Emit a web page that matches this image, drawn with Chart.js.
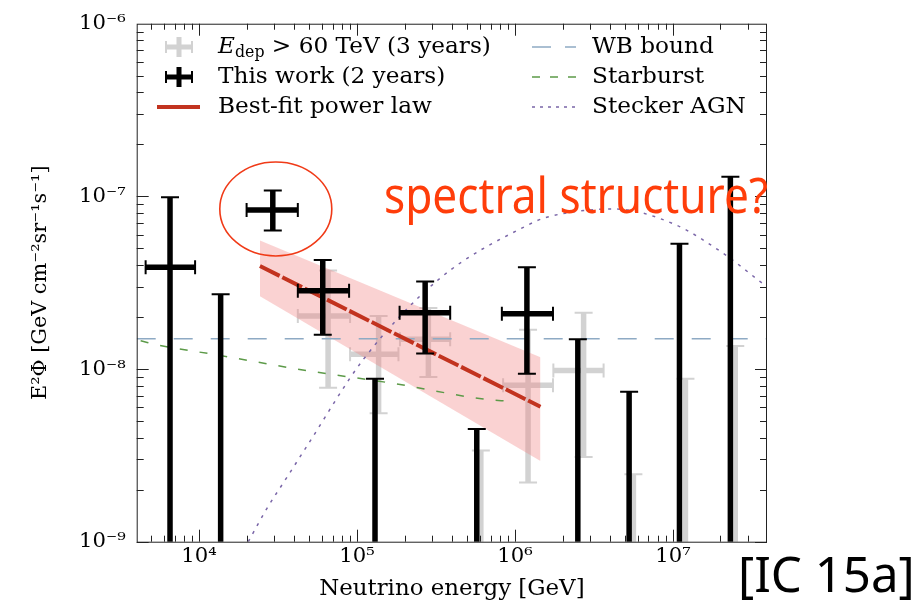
<!DOCTYPE html>
<html>
<head>
<meta charset="utf-8">
<script src="https://cdn.jsdelivr.net/npm/chart.js@4.4.1/dist/chart.umd.min.js"></script>
<style>
  html, body { margin: 0; padding: 0; background: #fff; }
  #wrap { width: 923px; height: 610px; }
</style>
</head>
<body>
<div id="wrap"><canvas id="fluxChart" width="923" height="610"></canvas></div>
<script>
// axis ranges and ticks
const xMin = 4.03e3, xMax = 3.94e7;
const yMin = 1e-9, yMax = 1e-6;
const xTickValues = [1e4, 1e5, 1e6, 1e7];
const xTickLabels = ['10⁴', '10⁵', '10⁶', '10⁷'];
const yTickValues = [1e-9, 1e-8, 1e-7, 1e-6];
const yTickLabels = ['10⁻⁹', '10⁻⁸', '10⁻⁷', '10⁻⁶'];

// This work (2 years) - measured bins
const workE    = [6.55e3, 2.93e4, 6.07e4, 2.70e5, 1.19e6];
const workELo  = [4.59e3, 2.00e4, 4.22e4, 1.86e5, 8.26e5];
const workEHi  = [9.44e3, 4.22e4, 8.91e4, 3.89e5, 1.74e6];
const workF    = [3.88e-8, 8.34e-8, 2.84e-8, 2.12e-8, 2.09e-8];
const workFLo  = [1e-10, 6.35e-8, 1.58e-8, 1.23e-8, 9.4e-9];
const workFHi  = [9.9e-8, 1.08e-7, 4.28e-8, 3.21e-8, 3.88e-8];
// This work - upper limits
const workLimE = [1.37e4, 1.30e5, 5.73e5, 2.50e6, 5.28e6, 1.10e7, 2.31e7];
const workLimF = [2.71e-8, 8.8e-9, 4.49e-9, 1.49e-8, 7.38e-9, 5.32e-8, 1.30e-7];

// E_dep > 60 TeV (3 years)
const heseE   = [6.56e4, 1.37e5, 2.83e5, 1.21e6, 2.72e6];
const heseELo = [4.22e4, 9.04e4, 1.87e5, 8.41e5, 1.75e6];
const heseEHi = [9.04e4, 1.83e5, 3.89e5, 1.74e6, 3.64e6];
const heseF   = [2.03e-8, 1.22e-8, 1.49e-8, 8.05e-9, 9.8e-9];
const heseFLo = [7.78e-9, 5.55e-9, 9.0e-9, 2.2e-9, 3.09e-9];
const heseFHi = [3.72e-8, 2.03e-8, 2.26e-8, 1.69e-8, 2.12e-8];
const heseLimE = [6.08e5, 5.62e6, 1.20e7, 2.48e7];
const heseLimF = [3.37e-9, 2.46e-9, 8.8e-9, 1.36e-8];

// best-fit power law and its band
const fitE = [2.43e4, 1.45e6];
const fitF = [3.95e-8, 6.05e-9];
const fitBandHi = [5.56e-8, 1.17e-8];
const fitBandLo = [2.64e-8, 2.93e-9];

// models
const wbE = [xMin, xMax];
const wbF = [1.50e-8, 1.50e-8];
const starE = [4.27e3, 5.25e3, 1.35e4, 4.79e4, 1.78e5, 6.31e5, 9.33e5];
const starF = [1.46e-8, 1.39e-8, 1.20e-8, 9.8e-9, 8.2e-9, 6.7e-9, 6.5e-9];
const steckE = [2.05e4, 2.68e4, 3.59e4, 4.81e4, 1.10e5, 3.36e5, 1.19e6, 1.59e6, 4.21e6, 1.01e7, 2.09e7, 3.57e7, 3.94e7];
const steckF = [1.0e-9, 1.55e-9, 2.35e-9, 3.57e-9, 1.14e-8, 3.36e-8, 6.78e-8, 7.57e-8, 8.45e-8, 6.93e-8, 4.67e-8, 3.21e-8, 3.0e-8];

const serif = "'DejaVu Serif', 'Liberation Serif', serif";
const handFont = "'Comic Sans MS', 'Noto Sans', 'DejaVu Sans', sans-serif";
const greyCol = '#d2d2d2';
const redCol = '#c2331f';
const wbCol = '#8eaac4';
const starCol = '#5c9a48';
const steckCol = '#7a66a8';

// pick a font size so a text gets the width it has in the original figure
const measurer = document.createElement('canvas').getContext('2d');
function fitSize(text, family, width, style) {
    measurer.font = (style || '') + ' 100px ' + family;
    return Math.round(1000 * width / measurer.measureText(text).width) / 10;
}
const tickSize = fitSize('10', serif, 27);
const legendSize = fitSize('This work (2 years)', serif, 227);
const xTitleSize = fitSize('Neutrino energy [GeV]', serif, 265);
const yTitleSize = fitSize('E²Φ [GeV cm⁻²sr⁻¹s⁻¹]', serif, 235);

const pts = (xs, ys) => xs.map((x, i) => ({ x: x, y: ys[i] }));

function drawCrossPx(ctx, px, py, pxl, pxh, pyl, pyh, color, w, capW, capH) {
    ctx.strokeStyle = color;
    ctx.lineCap = 'butt';
    ctx.lineWidth = w;
    ctx.beginPath();
    ctx.moveTo(pxl, py); ctx.lineTo(pxh, py);
    ctx.moveTo(px, pyl); ctx.lineTo(px, pyh);
    ctx.stroke();
    ctx.lineWidth = 2;
    ctx.beginPath();
    ctx.moveTo(px - capW, pyh); ctx.lineTo(px + capW, pyh);
    ctx.moveTo(px - capW, pyl); ctx.lineTo(px + capW, pyl);
    ctx.moveTo(pxl, py - capH); ctx.lineTo(pxl, py + capH);
    ctx.moveTo(pxh, py - capH); ctx.lineTo(pxh, py + capH);
    ctx.stroke();
}

function drawSet(chart, E, ELo, EHi, F, FLo, FHi, limE, limF, color) {
    const ctx = chart.ctx, xs = chart.scales.x, ys = chart.scales.y, a = chart.chartArea;
    ctx.save();
    ctx.beginPath();
    ctx.rect(a.left, a.top, a.right - a.left, a.bottom - a.top);
    ctx.clip();
    E.forEach((e, i) => {
        drawCrossPx(ctx, xs.getPixelForValue(e), ys.getPixelForValue(F[i]),
            xs.getPixelForValue(ELo[i]), xs.getPixelForValue(EHi[i]),
            ys.getPixelForValue(FLo[i]), ys.getPixelForValue(FHi[i]), color, 5.5, 9, 7);
    });
    limE.forEach((e, i) => {
        const px = xs.getPixelForValue(e), top = ys.getPixelForValue(limF[i]);
        ctx.strokeStyle = color;
        ctx.lineWidth = 5.5;
        ctx.beginPath(); ctx.moveTo(px, a.bottom + 5); ctx.lineTo(px, top); ctx.stroke();
        ctx.lineWidth = 2;
        ctx.beginPath(); ctx.moveTo(px - 9, top); ctx.lineTo(px + 9, top); ctx.stroke();
    });
    ctx.restore();
}

const errorBars = {
    id: 'errorBars',
    beforeDatasetsDraw(chart) {
        drawSet(chart, heseE, heseELo, heseEHi, heseF, heseFLo, heseFHi, heseLimE, heseLimF, greyCol);
    },
    afterDatasetsDraw(chart) {
        drawSet(chart, workE, workELo, workEHi, workF, workFLo, workFHi, workLimE, workLimF, '#000');
    }
};

const frame = {
    id: 'frame',
    afterDraw(chart) {
        const ctx = chart.ctx, xs = chart.scales.x, ys = chart.scales.y, a = chart.chartArea;
        ctx.save();
        ctx.strokeStyle = '#222';
        ctx.lineWidth = 1;
        ctx.strokeRect(a.left + 0.5, a.top + 0.5, a.right - a.left - 1, a.bottom - a.top);
        ctx.beginPath();
        for (let d = 3; d <= 7; d++) {
            for (let m = 1; m <= 9; m++) {
                const v = m * Math.pow(10, d);
                if (v < xMin || v > xMax) continue;
                const len = m === 1 ? 12 : 6;
                const p = Math.round(xs.getPixelForValue(v)) + 0.5;
                ctx.moveTo(p, a.bottom); ctx.lineTo(p, a.bottom - len);
                ctx.moveTo(p, a.top); ctx.lineTo(p, a.top + len);
            }
        }
        for (let d = -9; d <= -7; d++) {
            for (let m = 1; m <= 9; m++) {
                const v = m * Math.pow(10, d);
                if (v < yMin || v > yMax) continue;
                const len = m === 1 ? 12 : 7;
                const p = Math.round(ys.getPixelForValue(v)) + 0.5;
                ctx.moveTo(a.left, p); ctx.lineTo(a.left + len, p);
                ctx.moveTo(a.right, p); ctx.lineTo(a.right - len, p);
            }
        }
        ctx.stroke();

        // legend
        ctx.textBaseline = 'middle';
        ctx.fillStyle = '#000';
        const rows = [47, 77, 107];
        drawCrossPx(ctx, 179, rows[0], 166, 192, rows[0] + 10, rows[0] - 10, greyCol, 5, 0, 6);
        drawCrossPx(ctx, 179, rows[1], 166, 192, rows[1] + 10, rows[1] - 10, '#000', 5, 0, 6);
        ctx.strokeStyle = redCol; ctx.lineWidth = 4;
        ctx.beginPath(); ctx.moveTo(157, rows[2]); ctx.lineTo(200, rows[2]); ctx.stroke();
        let tx = 218;
        ctx.font = 'italic ' + legendSize + 'px ' + serif;
        ctx.fillText('E', tx, rows[0]);
        tx += ctx.measureText('E').width;
        ctx.font = (legendSize * 0.68).toFixed(1) + 'px ' + serif;
        ctx.fillText('dep', tx, rows[0] + 6);
        tx += ctx.measureText('dep').width;
        ctx.font = legendSize + 'px ' + serif;
        ctx.fillText(' > 60 TeV (3 years)', tx, rows[0]);
        ctx.fillText('This work (2 years)', 218, rows[1]);
        ctx.fillText('Best-fit power law', 218, rows[2]);

        const models = [['WB bound', wbCol, [19, 14]], ['Starburst', starCol, [8, 10]], ['Stecker AGN', steckCol, [3, 5]]];
        models.forEach((m, i) => {
            ctx.strokeStyle = m[1]; ctx.lineWidth = 1.5;
            ctx.setLineDash(m[2]);
            ctx.beginPath(); ctx.moveTo(532, rows[i]); ctx.lineTo(576, rows[i]); ctx.stroke();
            ctx.setLineDash([]);
            ctx.fillText(m[0], 592, rows[i]);
        });

        // annotations
        const cx = xs.getPixelForValue(workE[1]) + 3, cy = ys.getPixelForValue(workF[1]) - 1;
        ctx.strokeStyle = '#f03a17'; ctx.lineWidth = 1.6;
        ctx.beginPath(); ctx.ellipse(cx, cy, 56, 47, 0, 0, 2 * Math.PI); ctx.stroke();

        ctx.textBaseline = 'alphabetic';
        ctx.fillStyle = '#ff3d0a';
        ctx.font = fitSize('spectral structure?', handFont, 384) + 'px ' + handFont;
        ctx.save();
        ctx.translate(384, 213);
        ctx.scale(1, 1.1);
        ctx.fillText('spectral structure?', 0, 0);
        ctx.restore();

        ctx.fillStyle = '#000';
        ctx.font = fitSize('[IC 15a]', handFont, 177) + 'px ' + handFont;
        ctx.fillText('[IC 15a]', 738, 592);
        ctx.restore();
    }
};

const ctx = document.getElementById('fluxChart').getContext('2d');
const chart = new Chart(ctx, {
    type: 'scatter',
    data: {
        datasets: [
            {
                label: 'Best-fit power law',
                type: 'line',
                data: pts(fitE, fitF),
                borderColor: redCol,
                borderWidth: 4,
                borderDash: [22, 3],
                pointRadius: 0,
                fill: false,
                order: 1
            },
            {
                label: 'WB bound',
                type: 'line',
                data: pts(wbE, wbF),
                borderColor: wbCol,
                borderWidth: 1.5,
                borderDash: [19, 18],
                pointRadius: 0,
                fill: false,
                order: 2
            },
            {
                label: 'Starburst',
                type: 'line',
                data: pts(starE, starF),
                borderColor: starCol,
                borderWidth: 1.5,
                borderDash: [8, 12],
                pointRadius: 0,
                cubicInterpolationMode: 'monotone',
                fill: false,
                order: 3
            },
            {
                label: 'Stecker AGN',
                type: 'line',
                data: pts(steckE, steckF),
                borderColor: steckCol,
                borderWidth: 1.5,
                borderDash: [3, 6],
                pointRadius: 0,
                cubicInterpolationMode: 'monotone',
                fill: false,
                order: 4
            },
            {
                label: 'band low',
                type: 'line',
                data: pts(fitE, fitBandLo),
                borderWidth: 0,
                borderColor: 'rgba(0,0,0,0)',
                pointRadius: 0,
                fill: false,
                order: 6
            },
            {
                label: 'band high',
                type: 'line',
                data: pts(fitE, fitBandHi),
                borderWidth: 0,
                borderColor: 'rgba(0,0,0,0)',
                backgroundColor: 'rgba(240,130,130,0.36)',
                pointRadius: 0,
                fill: 4,
                order: 5
            }
        ]
    },
    options: {
        responsive: false,
        animation: false,
        devicePixelRatio: 1,
        layout: { padding: { left: 0, top: 17.5, right: 156, bottom: 0 } },
        plugins: {
            legend: { display: false },
            tooltip: { enabled: false }
        },
        scales: {
            x: {
                type: 'logarithmic',
                min: xMin,
                max: xMax,
                afterBuildTicks: s => { s.ticks = xTickValues.map(v => ({ value: v })); },
                afterFit: s => { s.height = 68.3; },
                grid: { display: false, drawTicks: false },
                border: { display: false },
                ticks: {
                    callback: (v, i) => xTickLabels[i],
                    font: { family: serif, size: tickSize },
                    color: '#000',
                    padding: 2,
                    maxRotation: 0,
                    autoSkip: false
                },
                title: {
                    display: true,
                    text: 'Neutrino energy [GeV]',
                    font: { family: serif, size: xTitleSize },
                    color: '#000',
                    padding: { top: 0, bottom: 7 }
                }
            },
            y: {
                type: 'logarithmic',
                min: yMin,
                max: yMax,
                afterBuildTicks: s => { s.ticks = yTickValues.map(v => ({ value: v })); },
                afterFit: s => { s.width = 136.7; },
                grid: { display: false, drawTicks: false },
                border: { display: false },
                ticks: {
                    callback: (v, i) => yTickLabels[i],
                    font: { family: serif, size: tickSize },
                    color: '#000',
                    padding: 11,
                    autoSkip: false
                },
                title: {
                    display: true,
                    text: 'E²Φ [GeV cm⁻²sr⁻¹s⁻¹]',
                    font: { family: serif, size: yTitleSize },
                    color: '#000',
                    padding: { top: 28, bottom: 0 }
                }
            }
        }
    },
    plugins: [errorBars, frame]
});
</script>
</body>
</html>
